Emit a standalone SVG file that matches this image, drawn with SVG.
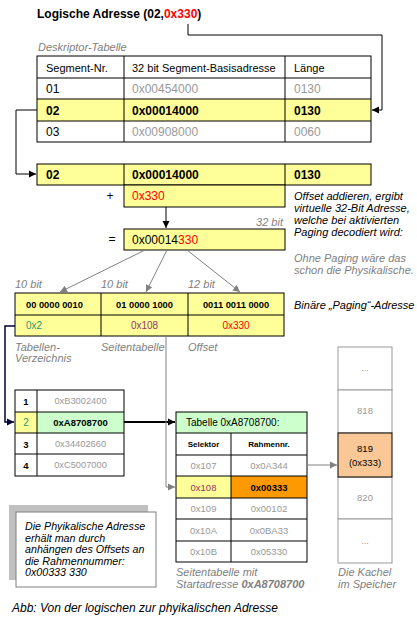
<svg xmlns="http://www.w3.org/2000/svg" width="417" height="623" viewBox="0 0 417 623">
<style>
text{font-family:"Liberation Sans",Arial,sans-serif;fill:#000}
.t12{font-size:12px}
.t11{font-size:11px}
.b{font-weight:bold}
.i{font-style:italic}
.g{fill:#999}
.gi{fill:#808080;font-style:italic;font-size:11px}
.red{fill:#f00}
.teal{fill:#2e9468}
.plum{fill:#993366}
.c{text-anchor:middle}
.cell{stroke:#000;stroke-width:1}
.yel{fill:#ffff99}
.wht{fill:#fff}
.grn{fill:#ccffcc}
.mem{fill:#fff;stroke:#999}
.ln{fill:none;stroke:#000;stroke-width:1}
.gl{fill:none;stroke:#808080;stroke-width:1}
</style>
<defs>
<marker id="ab" markerWidth="8" markerHeight="8" refX="7" refY="4" orient="auto" markerUnits="userSpaceOnUse"><path d="M0,0.5 L7,4 L0,7.5 z" fill="#000"/></marker>
<marker id="ag" markerWidth="8" markerHeight="8" refX="7" refY="4" orient="auto" markerUnits="userSpaceOnUse"><path d="M0,0.5 L7,4 L0,7.5 z" fill="#808080"/></marker>
<marker id="an" markerWidth="8" markerHeight="8" refX="7" refY="4" orient="auto" markerUnits="userSpaceOnUse"><path d="M0,0.5 L7,4 L0,7.5 z" fill="#000033"/></marker>
</defs>
<rect width="417" height="623" fill="#fff"/>

<g id="title">
<text x="37" y="18" class="t12 b">Logische Adresse (02,<tspan class="red">0x330</tspan>)</text>
</g>

<g id="deskriptor-tabelle">
<text x="38" y="51" class="gi">Deskriptor-Tabelle</text>
<rect x="37" y="99" width="334" height="22" class="yel"/>
<rect x="37" y="56" width="334" height="86" fill="none" class="cell"/>
<line x1="37" y1="78" x2="371" y2="78" class="cell"/>
<line x1="37" y1="99" x2="371" y2="99" class="cell"/>
<line x1="37" y1="121" x2="371" y2="121" class="cell"/>
<line x1="124" y1="56" x2="124" y2="142" class="cell"/>
<line x1="285" y1="56" x2="285" y2="142" class="cell"/>
<text x="46" y="71.5" class="t11">Segment-Nr.</text>
<text x="132" y="71.5" class="t11">32 bit Segment-Basisadresse</text>
<text x="294" y="71.5" class="t11">Länge</text>
<text x="46" y="93" class="t12">01</text>
<text x="132" y="93" class="t12 g">0x00454000</text>
<text x="294" y="93" class="t12 g">0130</text>
<text x="46" y="114.5" class="t12 b">02</text>
<text x="132" y="114.5" class="t12 b">0x00014000</text>
<text x="294" y="114.5" class="t12 b">0130</text>
<text x="46" y="136" class="t12">03</text>
<text x="132" y="136" class="t12 g">0x00908000</text>
<text x="294" y="136" class="t12 g">0060</text>
</g>

<g id="segment-zeile">
<rect x="37" y="164" width="334" height="21" class="yel cell"/>
<line x1="124" y1="164" x2="124" y2="185" class="cell"/>
<line x1="285" y1="164" x2="285" y2="185" class="cell"/>
<text x="46" y="179" class="t12 b">02</text>
<text x="132" y="179" class="t12 b">0x00014000</text>
<text x="294" y="179" class="t12 b">0130</text>
</g>

<g id="offset">
<rect x="124" y="185" width="161" height="22" class="yel cell"/>
<text x="132" y="200" class="t12 red">0x330</text>
<text x="110" y="200" class="t12 c">+</text>
</g>

<g id="virtuelle-adresse">
<text x="112" y="243" class="t12 c">=</text>
<rect x="124" y="229" width="161" height="21" class="yel cell"/>
<text x="132" y="244" class="t12">0x00014<tspan class="red">330</tspan></text>
<text x="283" y="226" class="gi" text-anchor="end">32 bit</text>
</g>

<g id="erklaerung">
<text x="294" y="200" class="t11 i">Offset addieren, ergibt</text>
<text x="294" y="212" class="t11 i">virtuelle 32-Bit Adresse,</text>
<text x="294" y="224" class="t11 i">welche bei aktivierten</text>
<text x="294" y="236" class="t11 i">Paging decodiert wird:</text>
<text x="294" y="262" class="gi">Ohne Paging wäre das</text>
<text x="294" y="274" class="gi">schon die Physikalische.</text>
</g>

<g id="paging-adresse">
<text x="15" y="288" class="gi">10 bit</text>
<text x="101" y="288" class="gi">10 bit</text>
<text x="188" y="288" class="gi">12 bit</text>
<rect x="15" y="293" width="269" height="43" class="yel cell"/>
<line x1="15" y1="315" x2="284" y2="315" class="cell"/>
<line x1="101" y1="293" x2="101" y2="336" class="cell"/>
<line x1="188" y1="293" x2="188" y2="336" class="cell"/>
<text x="26" y="307.5" class="b" font-size="9.3">00 0000 0010</text>
<text x="144.5" y="308" class="b c" font-size="9.3">01 0000 1000</text>
<text x="236" y="308" class="b c" font-size="9.3">0011 0011 0000</text>
<text x="26" y="329" class="teal" font-size="10">0x2</text>
<text x="144.5" y="329" class="plum c" font-size="10">0x108</text>
<text x="236" y="329" class="red c" font-size="10">0x330</text>
<text x="294" y="309" class="t11 i">Binäre „Paging“-Adresse</text>
<text x="15" y="351" class="gi">Tabellen-</text>
<text x="15" y="362" class="gi">Verzeichnis</text>
<text x="101" y="351" class="gi">Seitentabelle</text>
<text x="188" y="351" class="gi">Offset</text>
</g>

<g id="tabellen-verzeichnis">
<rect x="15" y="412" width="22" height="21" class="yel"/>
<rect x="37" y="412" width="87" height="21" class="grn"/>
<rect x="15" y="390" width="109" height="86" fill="none" class="cell"/>
<line x1="15" y1="412" x2="124" y2="412" class="cell"/>
<line x1="15" y1="433" x2="124" y2="433" class="cell"/>
<line x1="15" y1="454" x2="124" y2="454" class="cell"/>
<line x1="37" y1="390" x2="37" y2="476" class="cell"/>
<text x="26" y="405" class="b c" font-size="9.5">1</text>
<text x="26" y="426" class="teal c" font-size="10">2</text>
<text x="26" y="447.5" class="b c" font-size="9.5">3</text>
<text x="26" y="469" class="b c" font-size="9.5">4</text>
<text x="80.5" y="404" class="g c" font-size="9.3">0xB3002400</text>
<text x="80.5" y="426" class="b c" font-size="9.5">0xA8708700</text>
<text x="80.5" y="447" class="g c" font-size="9.3">0x34402660</text>
<text x="80.5" y="468" class="g c" font-size="9.3">0xC5007000</text>
</g>

<g id="seitentabelle">
<rect x="176" y="412" width="131" height="21" class="grn"/>
<rect x="176" y="476" width="55" height="22" class="yel"/>
<rect x="231" y="476" width="76" height="22" fill="#ff9900"/>
<rect x="176" y="412" width="131" height="150" fill="none" class="cell"/>
<line x1="176" y1="433" x2="307" y2="433" class="cell"/>
<line x1="176" y1="455" x2="307" y2="455" class="cell"/>
<line x1="176" y1="476" x2="307" y2="476" class="cell"/>
<line x1="176" y1="498" x2="307" y2="498" class="cell"/>
<line x1="176" y1="519" x2="307" y2="519" class="cell"/>
<line x1="176" y1="541" x2="307" y2="541" class="cell"/>
<line x1="231" y1="433" x2="231" y2="562" class="cell"/>
<text x="186" y="426" font-size="10">Tabelle 0xA8708700:</text>
<text x="203.5" y="447" class="b c" font-size="8">Selektor</text>
<text x="269" y="447" class="b c" font-size="8">Rahmennr.</text>
<text x="203.5" y="469" class="g c" font-size="9.5">0x107</text>
<text x="269" y="469" class="g c" font-size="9.5">0x0A344</text>
<text x="203.5" y="490.5" class="plum c" font-size="9.5">0x108</text>
<text x="269" y="490.5" class="b c" font-size="9.5">0x00333</text>
<text x="203.5" y="512" class="g c" font-size="9.5">0x109</text>
<text x="269" y="512" class="g c" font-size="9.5">0x00102</text>
<text x="203.5" y="533.5" class="g c" font-size="9.5">0x10A</text>
<text x="269" y="533.5" class="g c" font-size="9.5">0x0BA33</text>
<text x="203.5" y="555" class="g c" font-size="9.5">0x10B</text>
<text x="269" y="555" class="g c" font-size="9.5">0x05330</text>
<text x="176" y="576" class="gi">Seitentabelle mit</text>
<text x="176" y="588" class="gi">Startadresse <tspan font-weight="bold">0xA8708700</tspan></text>
</g>

<g id="speicher">
<rect x="338" y="347" width="54" height="43" class="mem"/>
<rect x="338" y="390" width="54" height="43" class="mem"/>
<rect x="338" y="477" width="54" height="42" class="mem"/>
<rect x="338" y="519" width="54" height="44" class="mem"/>
<rect x="338" y="433" width="54" height="44" fill="#fac896" stroke="#000"/>
<text x="365" y="371" class="g c" font-size="9">...</text>
<text x="365" y="414" class="g c" font-size="9.5">818</text>
<text x="365" y="452" class="c" font-size="9.5">819</text>
<text x="365" y="466" class="c" font-size="9.5">(0x333)</text>
<text x="365" y="501" class="g c" font-size="9.5">820</text>
<text x="365" y="544" class="g c" font-size="9">...</text>
<text x="338" y="576" class="gi">Die Kachel</text>
<text x="338" y="588" class="gi">im Speicher</text>
</g>

<g id="hinweis">
<rect x="9" y="505" width="139" height="75" fill="#c0c0c0"/>
<rect x="16" y="512" width="140" height="75" fill="#fff" stroke="#808080"/>
<text x="25" y="530" class="i" font-size="10.7">Die Phyikalische Adresse</text>
<text x="25" y="541.5" class="i" font-size="10.7">erhält man durch</text>
<text x="25" y="553" class="i" font-size="10.7">anhängen des Offsets an</text>
<text x="25" y="564.5" class="i" font-size="10.7">die Rahmennummer:</text>
<text x="25" y="576" class="i" font-size="10.7">0x00333 330</text>
</g>

<g id="caption">
<text x="12" y="612" class="t12 i">Abb: Von der logischen zur phyikalischen Adresse</text>
</g>

<g id="connectors">
<polyline points="188,24 188,35 382,35 382,110 372,110" class="ln" marker-end="url(#ab)"/>
<polyline points="37,110 16,110 16,174 36,174" class="ln" marker-end="url(#ab)"/>
<line x1="166" y1="207" x2="166" y2="228" class="ln" marker-end="url(#ab)"/>
<line x1="145" y1="250" x2="60" y2="292" class="gl" marker-end="url(#ag)"/>
<line x1="167" y1="250" x2="146" y2="292" class="gl" marker-end="url(#ag)"/>
<line x1="187" y1="250" x2="240" y2="292" class="gl" marker-end="url(#ag)"/>
<polyline points="15,326 5,326 5,422 14,422" fill="none" stroke="#000033" stroke-width="1.5" marker-end="url(#an)"/>
<line x1="124" y1="422" x2="175" y2="422" stroke="#000" stroke-width="2" marker-end="url(#ab)"/>
<polyline points="166,336 166,487 175,487" class="gl" marker-end="url(#ag)"/>
<line x1="307" y1="465" x2="337" y2="465" class="gl" marker-end="url(#ag)"/>
</g>
</svg>
